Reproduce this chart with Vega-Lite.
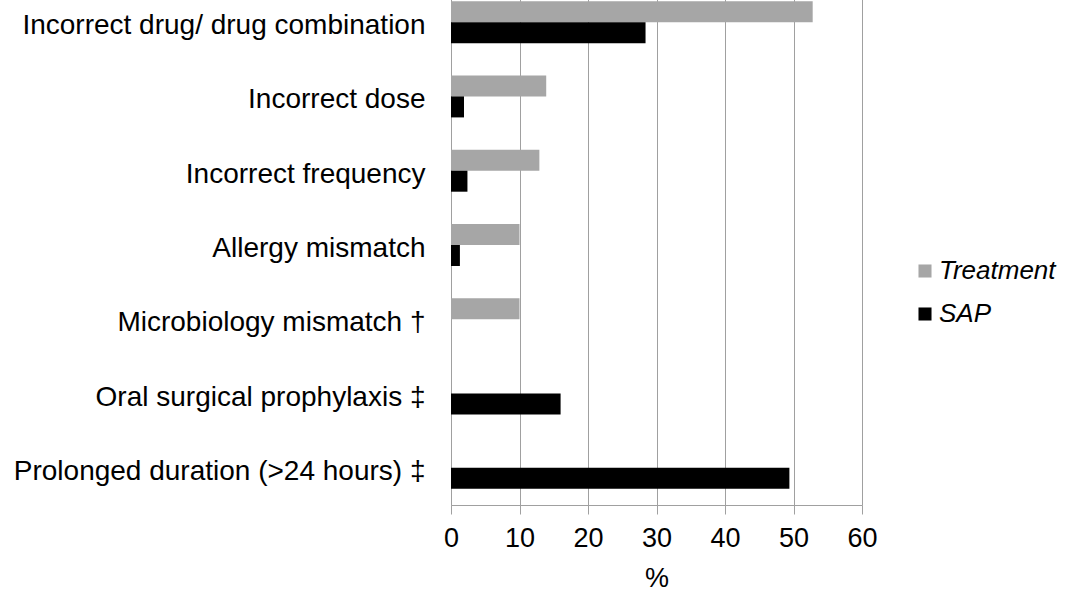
{
  "$schema": "https://vega.github.io/schema/vega-lite/v6.json",
  "width": 411,
  "height": 520,
  "autosize": "none",
  "padding": {"left": 451, "top": -15, "right": 205, "bottom": 92},
  "background": "white",
  "config": {"font": "Liberation Sans", "view": {"stroke": null}},
  "data": {
    "values": [
      {"category": "Incorrect drug/ drug combination", "group": "Treatment", "pct": 52.8},
      {"category": "Incorrect drug/ drug combination", "group": "SAP", "pct": 28.4},
      {"category": "Incorrect dose", "group": "Treatment", "pct": 13.9},
      {"category": "Incorrect dose", "group": "SAP", "pct": 1.9},
      {"category": "Incorrect frequency", "group": "Treatment", "pct": 12.9},
      {"category": "Incorrect frequency", "group": "SAP", "pct": 2.4},
      {"category": "Allergy mismatch", "group": "Treatment", "pct": 10.0},
      {"category": "Allergy mismatch", "group": "SAP", "pct": 1.3},
      {"category": "Microbiology mismatch †", "group": "Treatment", "pct": 10.0},
      {"category": "Microbiology mismatch †", "group": "SAP", "pct": 0},
      {"category": "Oral surgical prophylaxis ‡", "group": "Treatment", "pct": 0},
      {"category": "Oral surgical prophylaxis ‡", "group": "SAP", "pct": 16.0},
      {"category": "Prolonged duration (>24 hours) ‡", "group": "Treatment", "pct": 0},
      {"category": "Prolonged duration (>24 hours) ‡", "group": "SAP", "pct": 49.4}
    ]
  },
  "mark": {"type": "bar"},
  "encoding": {
    "y": {
      "field": "category",
      "type": "nominal",
      "sort": ["Incorrect drug/ drug combination", "Incorrect dose", "Incorrect frequency", "Allergy mismatch", "Microbiology mismatch †", "Oral surgical prophylaxis ‡", "Prolonged duration (>24 hours) ‡"],
      "scale": {"paddingInner": 0, "paddingOuter": 0},
      "axis": {"title": null, "labelFontSize": 28, "labelLimit": 600, "labelPadding": 26, "labelOffset": 4, "ticks": false, "domainColor": "#a0a0a0", "labelColor": "black"}
    },
    "yOffset": {
      "field": "group",
      "type": "nominal",
      "sort": ["Treatment", "SAP"],
      "scale": {"paddingInner": 0, "paddingOuter": 0.77}
    },
    "x": {
      "field": "pct",
      "type": "quantitative",
      "scale": {"domain": [0, 60], "nice": false},
      "axis": {"title": "%", "values": [0, 10, 20, 30, 40, 50, 60], "labelFlush": false, "tickSize": 9, "gridColor": "#a0a0a0", "domainColor": "#a0a0a0", "tickColor": "#a0a0a0", "labelFontSize": 27, "labelColor": "black", "titleFontSize": 27, "titleFontWeight": "normal", "titleColor": "black", "labelPadding": 11, "titlePadding": 14}
    },
    "color": {
      "field": "group",
      "type": "nominal",
      "scale": {"domain": ["Treatment", "SAP"], "range": ["#a6a6a6", "#000000"]},
      "legend": {"title": null, "orient": "none", "legendX": 461, "legendY": 273, "symbolType": "square", "symbolSize": 170, "symbolStrokeWidth": 0, "labelFontSize": 26, "labelFontStyle": "italic", "labelColor": "black", "rowPadding": 17, "labelOffset": 1}
    }
  }
}
